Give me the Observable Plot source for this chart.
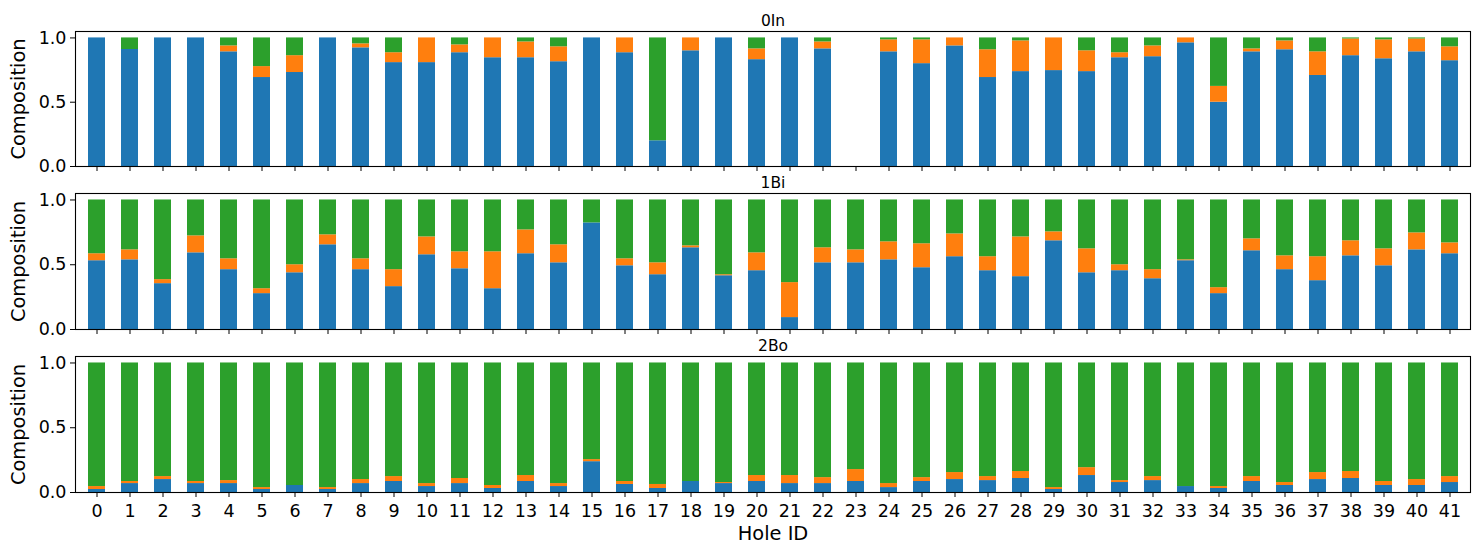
<!DOCTYPE html>
<html>
<head>
<meta charset="utf-8">
<script src="https://cdn.jsdelivr.net/npm/d3@7"></script>
<script src="https://cdn.jsdelivr.net/npm/@observablehq/plot@0.6"></script>
<style>
  html, body { margin: 0; padding: 0; background: #fff; }
  #chart { position: relative; width: 1480px; height: 555px; }
  #chart svg { position: absolute; left: 0; }
</style>
</head>
<body>
<div id="chart"></div>
<script>
// Categories (hole IDs) and tick labels
const holes = [0,1,2,3,4,5,6,7,8,9,10,11,12,13,14,15,16,17,18,19,20,21,22,23,24,25,26,27,28,29,30,31,32,33,34,35,36,37,38,39,40,41];
const panelTitles = ["0In", "1Bi", "2Bo"];
const components = ["c0", "c1", "c2"];
const componentColors = ["#1f77b4", "#ff7f0e", "#2ca02c"];
const yTicks = [0, 0.5, 1.0];

// Panel 0In
const in_c0 = [1,0.91,1,1,0.892,0.692,0.731,1,0.923,0.808,0.808,0.885,0.846,0.846,0.815,1,0.885,0.2,0.9,1,0.831,1,0.915,0,0.892,0.8,0.938,0.692,0.738,0.746,0.738,0.846,0.854,0.962,0.5,0.892,0.908,0.708,0.862,0.838,0.892,0.823];
const in_c1 = [0,0,0,0,0.046,0.085,0.131,0,0.031,0.077,0.192,0.061,0.154,0.123,0.116,0,0.115,0,0.1,0,0.084,0,0.054,0,0.093,0.185,0.062,0.216,0.239,0.254,0.162,0.039,0.084,0.038,0.123,0.023,0.069,0.184,0.13,0.147,0.1,0.108];
const in_c2 = [0,0.09,0,0,0.062,0.223,0.138,0,0.046,0.115,0,0.054,0,0.031,0.069,0,0,0.8,0,0,0.085,0,0.031,0,0.015,0.015,0,0.092,0.023,0,0.1,0.115,0.062,0,0.377,0.085,0.023,0.108,0.008,0.015,0.008,0.069];

// Panel 1Bi
const bi_c0 = [0.531,0.538,0.354,0.592,0.462,0.277,0.438,0.654,0.462,0.331,0.577,0.469,0.315,0.585,0.515,0.823,0.492,0.423,0.631,0.415,0.454,0.092,0.515,0.515,0.538,0.477,0.562,0.454,0.408,0.685,0.438,0.454,0.392,0.531,0.277,0.608,0.462,0.377,0.569,0.492,0.615,0.585];
const bi_c1 = [0.054,0.077,0.031,0.131,0.084,0.038,0.062,0.077,0.084,0.131,0.138,0.131,0.285,0.184,0.139,0,0.054,0.092,0.015,0.008,0.138,0.27,0.116,0.1,0.139,0.185,0.176,0.108,0.307,0.069,0.185,0.046,0.07,0.007,0.046,0.092,0.107,0.185,0.116,0.131,0.131,0.084];
const bi_c2 = [0.415,0.385,0.615,0.277,0.454,0.685,0.5,0.269,0.454,0.538,0.285,0.4,0.4,0.231,0.346,0.177,0.454,0.485,0.354,0.577,0.408,0.638,0.369,0.385,0.323,0.338,0.262,0.438,0.285,0.246,0.377,0.5,0.538,0.462,0.677,0.3,0.431,0.438,0.315,0.377,0.254,0.331];

// Panel 2Bo
const bo_c0 = [0.023,0.069,0.1,0.069,0.069,0.023,0.054,0.023,0.069,0.085,0.046,0.069,0.031,0.085,0.046,0.238,0.062,0.031,0.085,0.069,0.085,0.069,0.069,0.085,0.038,0.085,0.1,0.092,0.108,0.023,0.131,0.077,0.092,0.046,0.031,0.085,0.054,0.1,0.108,0.054,0.054,0.077];
const bo_c1 = [0.023,0.016,0.023,0.016,0.023,0.015,0,0.015,0.031,0.038,0.023,0.039,0.023,0.046,0.023,0.016,0.023,0.031,0,0.008,0.046,0.062,0.046,0.092,0.031,0.03,0.054,0.031,0.054,0.015,0.061,0.015,0.031,0,0.015,0.038,0.023,0.054,0.054,0.031,0.046,0.046];
const bo_c2 = [0.954,0.915,0.877,0.915,0.908,0.962,0.946,0.962,0.9,0.877,0.931,0.892,0.946,0.869,0.931,0.746,0.915,0.938,0.915,0.923,0.869,0.869,0.885,0.823,0.931,0.885,0.846,0.877,0.838,0.962,0.808,0.908,0.877,0.954,0.954,0.877,0.923,0.846,0.838,0.915,0.9,0.877];

const panelSeries = [
  [in_c0, in_c1, in_c2],
  [bi_c0, bi_c1, bi_c2],
  [bo_c0, bo_c1, bo_c2]
];

function rowsFor(series) {
  const rows = [];
  series.forEach((vals, ci) => {
    holes.forEach((h, i) => rows.push({hole: h, comp: components[ci], value: vals[i]}));
  });
  return rows;
}

const font = "DejaVu Sans, sans-serif";
const tickFont = 17.5;
const labelFont = 19.4;
const titleFont = 15.5;
const layout = [
  {top: 0,   height: 180, marginTop: 31, marginBottom: 14, last: false},
  {top: 162, height: 181, marginTop: 31, marginBottom: 14, last: false},
  {top: 325, height: 230, marginTop: 31, marginBottom: 63, last: true}
];

const container = document.getElementById("chart");
panelSeries.forEach((series, p) => {
  const L = layout[p];
  const svg = Plot.plot({
    width: 1480,
    height: L.height,
    marginTop: L.marginTop,
    marginBottom: L.marginBottom,
    marginLeft: 75,
    marginRight: 10,
    style: {fontFamily: font, fontSize: tickFont + "px", color: "black", background: "transparent", overflow: "visible"},
    x: {domain: holes, paddingInner: 0.5, paddingOuter: 0.25, axis: null},
    y: {domain: [0, 1.05], axis: null},
    color: {domain: components, range: componentColors},
    marks: [
      Plot.barY(rowsFor(series), {x: "hole", y: "value", fill: "comp"}),
      Plot.axisY({ticks: yTicks, tickFormat: d3.format(".1f"), tickSize: 5, tickPadding: 4, fontSize: tickFont, label: null}),
      Plot.text(["Composition"], {frameAnchor: "left", dx: -57, rotate: -90, text: d => d, fontSize: labelFont, textAnchor: "middle"}),
      L.last
        ? Plot.axisX({tickSize: 5, tickPadding: 7, fontSize: tickFont, label: null})
        : Plot.axisX({tickSize: 5, tickFormat: () => "", label: null}),
      L.last
        ? Plot.text(["Hole ID"], {frameAnchor: "bottom", dy: 47, text: d => d, fontSize: labelFont})
        : null,
      Plot.frame({stroke: "black", strokeWidth: 1.1}),
      Plot.text([panelTitles[p]], {frameAnchor: "top", dy: -17, text: d => d, fontSize: titleFont})
    ]
  });
  svg.style.top = L.top + "px";
  container.appendChild(svg);
});
</script>
</body>
</html>
